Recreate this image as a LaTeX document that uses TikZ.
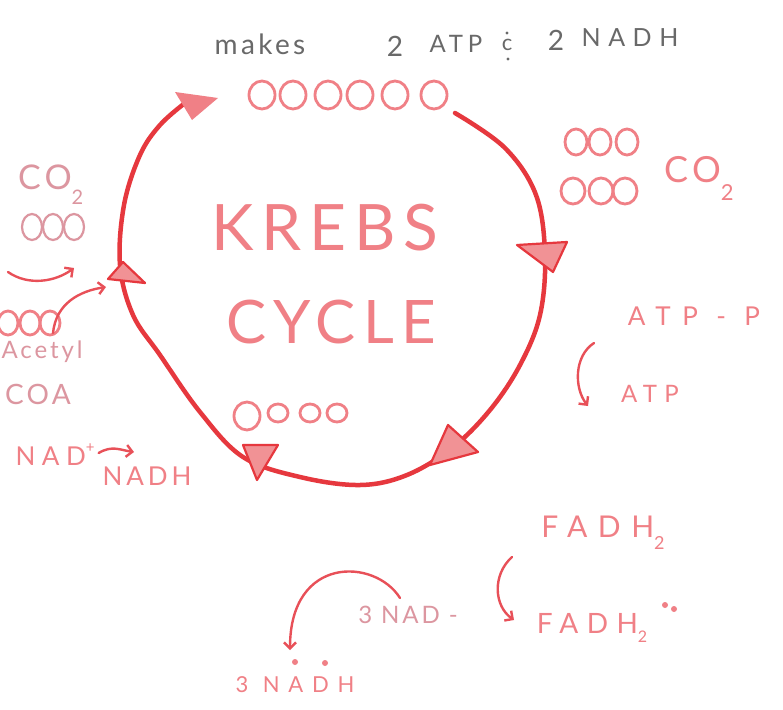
\documentclass[tikz,border=0pt]{standalone}
\usepackage{fontspec}
\setmainfont{Lato}
\newfontfamily\hand[LetterSpace=12]{Lato}
\usetikzlibrary{arrows.meta}
\definecolor{cyc}{RGB}{230,56,62}
\definecolor{sal}{RGB}{240,128,134}
\definecolor{fade}{RGB}{220,150,160}
\definecolor{ttl}{RGB}{105,105,105}
\definecolor{arr}{RGB}{232,80,88}
\newcommand\fs[1]{\fontsize{#1}{#1}\selectfont}
\newcommand\lsp[1]{\addfontfeature{LetterSpace=#1}}
\newcommand\lowsub[2]{\raisebox{-#1}{\fs{#2}2}}
\begin{document}
\begin{tikzpicture}[x=1pt,y=-1pt,
  lbl/.style={inner sep=0pt, text=sal},
  ring/.style={draw=sal, line width=2.8pt},
  fadering/.style={draw=fade, line width=2.2pt},
  cycline/.style={draw=cyc, line width=4.5pt, line cap=round},
  trimark/.style={draw=cyc, fill=cyc!55, line width=2.2pt, line join=round},
  thinarrow/.style={draw=arr, line width=2.4pt, line cap=round, -{Straight Barb[length=6pt,width=12pt]}}]
\useasboundingbox (0,0) rectangle (783,709);
\fill[white] (0,0) rectangle (783,709);

% title
\node[lbl, text=ttl, font=\hand\fs{28}] (tmakes) at (260,44) {makes};
\node[lbl, text=ttl, font=\hand\fs{28}] (ttwoa) at (395,46) {2};
\node[lbl, text=ttl, font=\hand\fs{24}\lsp{20}] (tatp) at (456,44) {ATP};
\node[lbl, text=ttl, font=\hand\fs{22}] (tc) at (507,45) {c};
\fill[ttl] (507,33) circle (1.6) (508,59) circle (1.6);
\node[lbl, text=ttl, font=\hand\fs{28}] (ttwob) at (556,40) {2};
\node[lbl, text=ttl, font=\hand\fs{25}\lsp{30}] (tnadh) at (630,38) {NADH};

% top circles
\foreach \x in {262,293,328,360,395,434} \draw[ring] (\x,95) ellipse (13 and 14);

% cycle
\draw[cycline] plot[smooth, tension=0.6] coordinates {(455,113) (505,148) (536,195) (545,255) (540,315) (520,365) (490,410) (452,448) (407,475) (360,485) (300,477) (243,457) (200,412) (160,355) (133,315) (120,265) (124,205) (140,155) (160,125) (185,103)};
\fill[sal] (175,92) -- (218,98) -- (192,120) -- cycle;
\draw[trimark] (517,245) -- (567,242) -- (553,272) -- cycle;
\draw[trimark] (448,425) -- (478,452) -- (430,465) -- cycle;
\draw[trimark] (243,445) -- (278,445) -- (257,480) -- cycle;
\draw[trimark] (108,279) -- (123,262) -- (145,283) -- cycle;

% center text
\node[lbl, font=\hand\fs{64}] (krebs) at (325,228) {KREBS};
\node[lbl, font=\hand\fs{60}] (cycle) at (331,322) {CYCLE};
\draw[ring] (247,416) ellipse (13 and 14);
\foreach \x in {278,310,337} \draw[ring] (\x,413) ellipse (10 and 9);

% right side
\foreach \x in {576,600,627} \draw[ring] (\x,142) ellipse (11 and 13);
\foreach \x in {573,601,625} \draw[ring] (\x,191) ellipse (12 and 13);
\node[lbl, font=\hand\fs{36}, anchor=west] (co2r) at (664,178) {CO\lowsub{.5em}{22}};
\node[lbl, font=\hand\fs{26}\lsp{45}] (atpp) at (694,316) {ATP - P};
\node[lbl, font=\hand\fs{24}\lsp{30}] (atp) at (650,394) {ATP};
\coordinate (a3s) at (594,343);
\coordinate (a3e) at (588,406);
\draw[thinarrow] (a3s) .. controls (574,356) and (574,388) .. (a3e);

% left side
\node[lbl, text=fade, font=\hand\fs{34}, anchor=west] (co2l) at (18,185) {CO\lowsub{.45em}{20}};
\foreach \x in {32,53,74} \draw[fadering] (\x,227) ellipse (10 and 13);
\coordinate (a1s) at (8,272);
\coordinate (a1e) at (74,268);
\draw[thinarrow] (a1s) .. controls (28,286) and (55,282) .. (a1e);
\foreach \x in {8,30,50} \draw[ring] (\x,323) ellipse (10 and 12);
\coordinate (a2s) at (53,333);
\coordinate (a2e) at (106,287);
\draw[thinarrow] (a2s) .. controls (56,303) and (80,291) .. (a2e);
\node[lbl, text=fade, font=\hand\fs{24}] (acetyl) at (42,352) {Acetyl};
\node[lbl, text=fade, font=\hand\fs{28}] (coa) at (38,394) {COA};
\node[lbl, font=\hand\fs{26}\lsp{25}] (nadp) at (55,455) {NAD\raisebox{.5em}{\fs{15}+}};
\coordinate (a6e) at (134,452);
\draw[thinarrow] (nadp.east) ++(4,-2) coordinate (a6s) .. controls (112,445) and (120,450) .. (a6e);
\node[lbl, font=\hand\fs{26}\lsp{15}] (nadh) at (147,476) {NADH};

% bottom
\node[lbl, font=\hand\fs{30}\lsp{35}] (fadha) at (603,533) {FADH\lowsub{.4em}{18}};
\coordinate (a4s) at (512,557);
\coordinate (a4e) at (514,620);
\draw[thinarrow] (a4s) .. controls (492,575) and (494,606) .. (a4e);
\node[lbl, font=\hand\fs{28}\lsp{30}] (fadhb) at (592,628) {FADH\lowsub{.35em}{16}};
\fill[sal] (665,605) circle (3) (674,609) circle (3);
\node[lbl, text=fade, font=\hand\fs{24}] (nad3) at (408,615) {3 NAD -};
\coordinate (a5s) at (400,598);
\coordinate (a5e) at (290,650);
\draw[thinarrow] (a5s) .. controls (375,558) and (290,555) .. (a5e);
\node[lbl, font=\hand\fs{22}\lsp{40}] (nadh3) at (295,685) {3 NADH};
\fill[sal] (295,662) circle (3) (325,663) circle (3);
\end{tikzpicture}
\end{document}
